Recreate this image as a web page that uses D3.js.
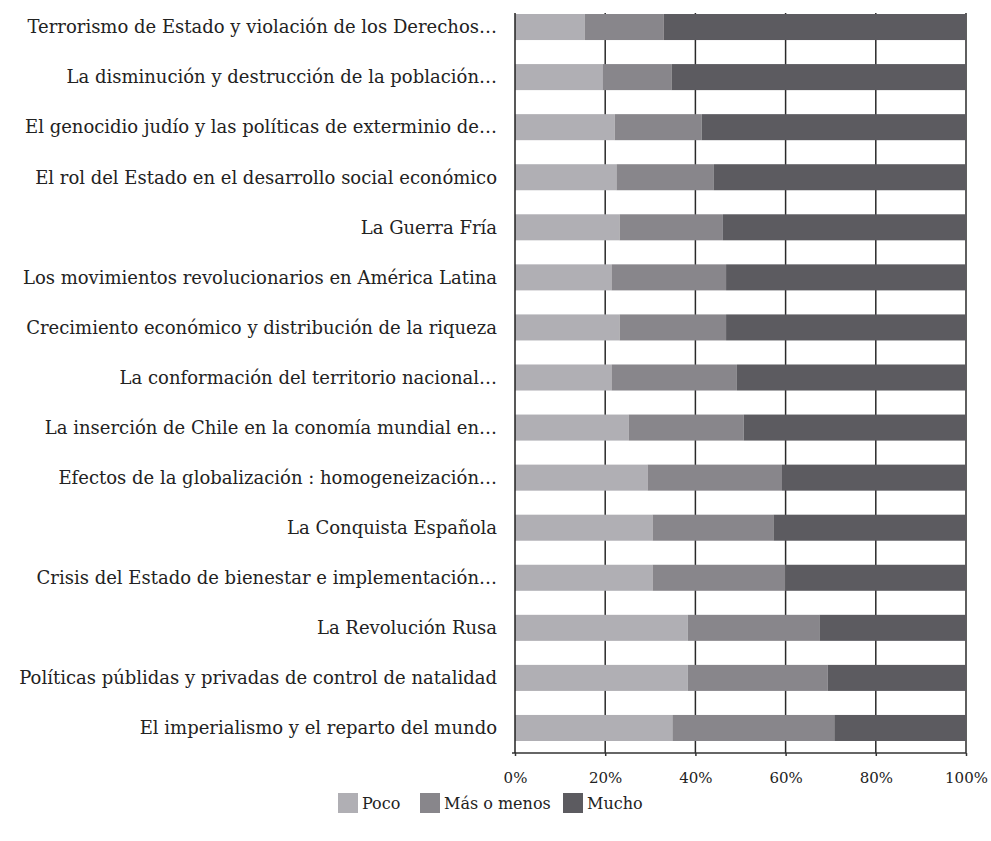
<!DOCTYPE html>
<html>
<head>
<meta charset="utf-8">
<script src="https://cdn.jsdelivr.net/npm/d3@7"></script>
<style>
  body { margin: 0; background: #fff; }
  svg text { font-family: "DejaVu Serif", serif; fill: #222; }
</style>
</head>
<body>
<svg width="991" height="841"></svg>
<script>
// categories, top to bottom
var temas = [
  "Terrorismo de Estado y violación de los Derechos…",
  "La disminución y destrucción de la población…",
  "El genocidio judío y las políticas de exterminio de…",
  "El rol del Estado en el desarrollo social económico",
  "La Guerra Fría",
  "Los movimientos revolucionarios en América Latina",
  "Crecimiento económico y distribución de la riqueza",
  "La conformación del territorio nacional…",
  "La inserción de Chile en la conomía mundial en…",
  "Efectos de la globalización : homogeneización…",
  "La Conquista Española",
  "Crisis del Estado de bienestar e implementación…",
  "La Revolución Rusa",
  "Políticas públidas y privadas de control de natalidad",
  "El imperialismo y el reparto del mundo"
];
var poco       = [15.5, 19.4, 22.1, 22.5, 23.2, 21.4, 23.2, 21.4, 25.2, 29.4, 30.5, 30.5, 38.3, 38.3, 34.9];
var masOMenos  = [17.5, 15.3, 19.3, 21.6, 22.9, 25.4, 23.6, 27.8, 25.5, 29.8, 26.8, 29.5, 29.2, 31.0, 35.9];
var mucho      = [67.0, 65.3, 58.6, 55.9, 53.9, 53.2, 53.2, 50.8, 49.3, 40.8, 42.7, 40.0, 32.5, 30.7, 29.2];
var series = ["Poco", "Más o menos", "Mucho"];
var colores = ["#b0afb4", "#88868b", "#5c5b60"];
var ticks = [0, 20, 40, 60, 80, 100];

function draw_chart() {
  var svg = d3.select("svg");

  var left = 515, right = 966, plotTop = 2, bottom = 753;

  var rows = temas.map(function(t, i) {
    return { tema: t, "Poco": poco[i], "Más o menos": masOMenos[i], "Mucho": mucho[i] };
  });

  var x = d3.scaleLinear().domain([0, 100]).range([left, right]);
  var y = d3.scaleBand().domain(temas).range([plotTop, bottom])
    .paddingInner(0.48).paddingOuter(0.24);

  var layers = d3.stack().keys(series)(rows);

  // gridlines
  svg.append("g")
    .selectAll("line")
    .data(ticks.slice(1))
    .enter().append("line")
      .attr("x1", function(d) { return x(d); })
      .attr("x2", function(d) { return x(d); })
      .attr("y1", 13)
      .attr("y2", bottom)
      .attr("stroke", "#2a2a2a")
      .attr("stroke-width", 1.5);

  // bars
  svg.append("g")
    .selectAll("g")
    .data(layers)
    .enter().append("g")
      .attr("fill", function(d, i) { return colores[i]; })
    .selectAll("rect")
    .data(function(d) { return d; })
    .enter().append("rect")
      .attr("x", function(d) { return x(d[0]); })
      .attr("width", function(d) { return x(d[1]) - x(d[0]); })
      .attr("y", function(d) { return y(d.data.tema); })
      .attr("height", y.bandwidth());

  // x axis
  var xAxis = svg.append("g")
    .attr("transform", "translate(0," + bottom + ")")
    .call(d3.axisBottom(x).tickValues(ticks).tickSize(3).tickSizeOuter(0)
      .tickFormat(function(d) { return d + "%"; }));
  xAxis.select(".domain").attr("stroke", "#333").attr("stroke-width", 1.5)
    .attr("d", "M" + (left - 3) + ",0H" + right);
  xAxis.selectAll(".tick line").attr("stroke", "#333").attr("stroke-width", 1.5);
  xAxis.selectAll(".tick text")
    .attr("dy", null).attr("y", 30)
    .style("font-size", "15px")
    .style("font-family", "'DejaVu Serif', serif")
    .attr("fill", "#222");

  // y axis line
  svg.append("line")
    .attr("x1", left).attr("x2", left)
    .attr("y1", 13).attr("y2", bottom)
    .attr("stroke", "#222").attr("stroke-width", 1.5);

  // category labels
  svg.append("g")
    .selectAll("text")
    .data(temas)
    .enter().append("text")
      .attr("x", left - 18)
      .attr("y", function(d) { return y(d) + y.bandwidth() / 2; })
      .attr("dy", "0.35em")
      .attr("text-anchor", "end")
      .style("font-size", "18px")
      .text(function(d) { return d; });

  // legend
  var legendX = [338, 420, 563];
  var legend = svg.append("g")
    .selectAll("g")
    .data(series)
    .enter().append("g")
      .attr("transform", function(d, i) { return "translate(" + legendX[i] + ",793)"; });
  legend.append("rect")
    .attr("width", 20).attr("height", 20)
    .attr("fill", function(d, i) { return colores[i]; });
  legend.append("text")
    .attr("x", 24).attr("y", 10).attr("dy", "0.35em")
    .style("font-size", "16px")
    .text(function(d) { return d; });
}

draw_chart();
</script>
</body>
</html>
